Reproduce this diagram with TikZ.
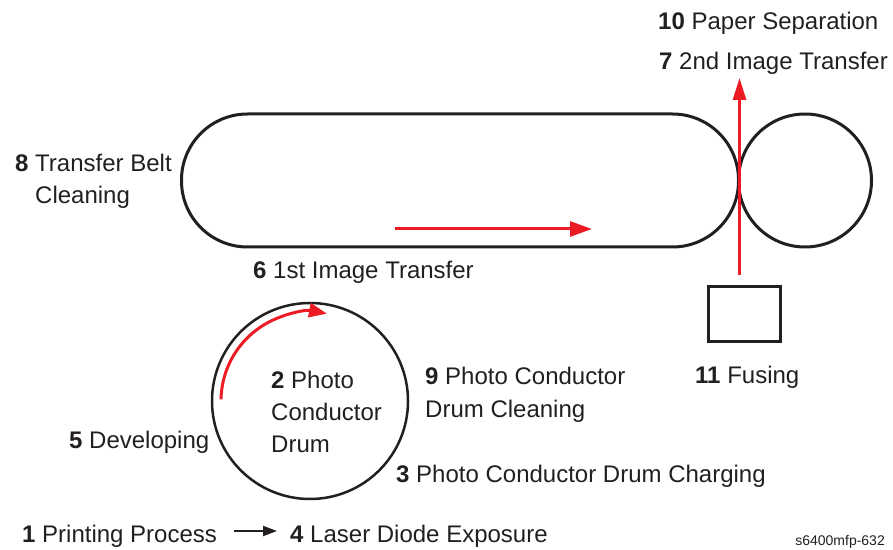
\documentclass[tikz,border=0pt]{standalone}
\usepackage{fontspec}
\setmainfont{Liberation Sans}
\usetikzlibrary{positioning,calc,arrows.meta}
\definecolor{procred}{RGB}{237,28,36}
\definecolor{inkblack}{RGB}{35,31,32}

\begin{document}
\begin{tikzpicture}[x=1pt, y=1pt,
  font=\fontsize{24}{32}\selectfont, color=inkblack,
  part/.style={draw=inkblack, line width=3pt, inner sep=0pt, outer sep=0pt},
  lbl/.style={anchor=base west, inner sep=0pt, align=left},
  flow/.style={-{Triangle[length=22pt, width=15pt]}, draw=procred, line width=3pt},
  node distance=0pt
]
\useasboundingbox (0,0) rectangle (893,549);

% Transfer belt and the 2nd transfer roller
\node[part, rectangle, rounded corners=66pt, minimum width=557pt, minimum height=133pt]
  (belt) at (460,368.5) {};
\node[part, circle, minimum size=133pt, right=0pt of belt] (roller) {};

% Photo conductor drum and fuser
\node[part, circle, line width=2.5pt, minimum size=196pt] (drum) at (310,148) {};
\node[part, rectangle, minimum width=72pt, minimum height=55pt] (fuser) at (744.5,235) {};

% Process direction arrows
\coordinate (beltin) at (395,320);
\coordinate (beltout) at (592,320);
\coordinate (paperout) at (739.5,471);
\draw[flow] (beltin) -- (beltout);
\draw[flow, -{Triangle[length=22pt, width=13pt]}, shorten <=11pt] (fuser.north -| paperout) -- (paperout);
\draw[flow, -{Triangle[length=18pt, width=14pt]}]
  ([shift={(179:89)}]drum.center) arc[start angle=179, end angle=79, radius=89];

% Labels (base = baseline of the last line)
\node[lbl] (sep) at (658,519) {\textbf{10} Paper Separation};
\node[lbl] (second) at (659,479) {\textbf{7} 2nd Image Transfer};
\node[lbl] (beltclean) at (15,345) {\textbf{8} Transfer Belt\\\hphantom{\textbf{8} }Cleaning};
\node[lbl] (first) at (253,270) {\textbf{6} 1st Image Transfer};
\node[lbl] (drumlbl) at (271,97) {\textbf{2} Photo\\Conductor\\Drum};
\node[lbl] (drumclean) at (425,132) {\textbf{9} Photo Conductor\\Drum Cleaning};
\node[lbl] (charge) at (396,67) {\textbf{3} Photo Conductor Drum Charging};
\node[lbl] (fusing) at (695,166) {\textbf{11} Fusing};
\node[lbl] (develop) at (69,101) {\textbf{5} Developing};
\node[lbl] (start) at (22,7) {\textbf{1} Printing Process};
\node[lbl] (expose) at (290,7) {\textbf{4} Laser Diode Exposure};
\draw[-{Triangle[length=14pt, width=10pt]}, line width=2pt, shorten <=17pt, shorten >=13pt]
  ($(start.base east)+(0,11)$) -- ($(expose.base west)+(0,11)$);

% Figure id
\node[anchor=base east, inner sep=0pt, font=\fontsize{14}{16}\selectfont] (figid) at (885,4) {s6400mfp-632};
\end{tikzpicture}
\end{document}
